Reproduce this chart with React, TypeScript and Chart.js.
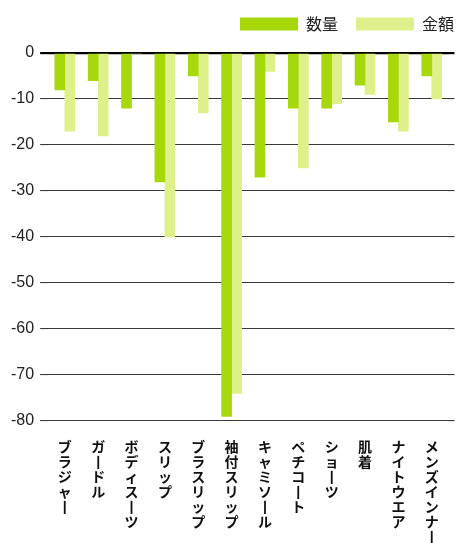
import React, { useEffect, useRef } from "react";
import { Chart, registerables } from "chart.js";

Chart.register(...registerables);

const categories = [
  "ブラジャー",
  "ガードル",
  "ボディスーツ",
  "スリップ",
  "ブラスリップ",
  "袖付スリップ",
  "キャミソール",
  "ペチコート",
  "ショーツ",
  "肌着",
  "ナイトウエア",
  "メンズインナー",
];
const quantity = [-8, -6, -12, -28, -5, -79, -27, -12, -12, -7, -15, -5];
const amount = [-17, -18, 0, -40, -13, -74, -4, -25, -11, -9, -17, -10];
const seriesNames = ["数量", "金額"];
const yTicks = [0, -10, -20, -30, -40, -50, -60, -70, -80];

const DARK = "#a6d80c";
const LIGHT = "#ddf08a";

// vertical (tategaki) display: one character per line, long-vowel mark drawn upright
const toVertical = (s: string) => Array.from(s).map((c) => (c === "ー" ? "丨" : c));

const legendShift = {
  id: "legendShift",
  afterLayout(chart: any) {
    const lg = chart.legend;
    if (!lg) return;
    lg.left += 15;
    lg.right += 15;
    lg.top -= 11;
    lg.bottom -= 11;
  },
};

export default function App() {
  const ref = useRef<HTMLCanvasElement | null>(null);
  useEffect(() => {
    if (!ref.current) return;
    const gridColor = (ctx: any) => (ctx.tick && ctx.tick.value === 0 ? "#000000" : "#3a3a3a");
    const gridWidth = (ctx: any) => (ctx.tick && ctx.tick.value === 0 ? 2.2 : 1.1);
    const chart = new Chart(ref.current, {
      type: "bar",
      data: {
        labels: categories,
        datasets: [
          { label: seriesNames[0], data: quantity, backgroundColor: DARK, borderWidth: 0 },
          { label: seriesNames[1], data: amount, backgroundColor: LIGHT, borderWidth: 0 },
        ],
      },
      plugins: [legendShift],
      options: {
        animation: false,
        responsive: true,
        maintainAspectRatio: false,
        layout: { padding: { left: 5, right: 0, top: 9, bottom: 0 } },
        plugins: {
          tooltip: { enabled: false },
          legend: {
            position: "top",
            align: "end",
            labels: {
              boxWidth: 58,
              boxHeight: 13,
              padding: 18,
              color: "#222",
              font: { family: "'Noto Sans CJK JP', 'Noto Sans'", size: 16 },
            },
          },
        },
        scales: {
          x: {
            grid: { display: false, drawTicks: false },
            border: { display: false },
            afterFit: (axis: any) => {
              axis.height = 122;
            },
            ticks: {
              autoSkip: false,
              maxRotation: 0,
              minRotation: 0,
              padding: 18,
              color: "#111",
              font: { family: "'Noto Sans CJK JP'", size: 14, weight: "bold", lineHeight: 1.07 },
              callback: (_v: any, i: number) => toVertical(categories[i]),
            },
          } as any,
          y: {
            min: -80,
            max: 0,
            grid: { color: gridColor, lineWidth: gridWidth, tickLength: 8, drawTicks: true },
            border: { display: false },
            afterBuildTicks: (axis: any) => {
              axis.ticks = yTicks.map((v) => ({ value: v }));
            },
            ticks: {
              padding: 6,
              color: "#222",
              font: { family: "'Liberation Sans', Arial", size: 16 },
            },
          },
          y2: {
            position: "right",
            min: -80,
            max: 0,
            grid: { color: gridColor, lineWidth: gridWidth, tickLength: 6, drawTicks: true, drawOnChartArea: false },
            border: { display: false },
            afterBuildTicks: (axis: any) => {
              axis.ticks = yTicks.map((v) => ({ value: v }));
            },
            ticks: { display: false },
          },
        },
        datasets: {
          bar: { barThickness: 10 },
        },
      } as any,
    });
    return () => chart.destroy();
  }, []);
  return (
    <div style={{ position: "absolute", left: 0, top: 0, width: 457, height: 543, background: "#fff" }}>
      <canvas ref={ref} />
    </div>
  );
}
